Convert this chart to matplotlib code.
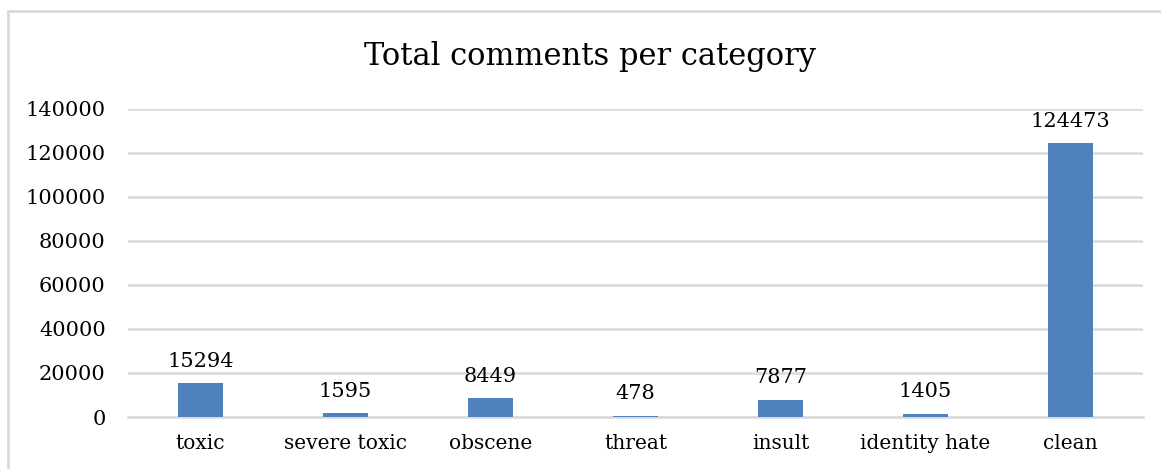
import matplotlib.pyplot as plt
from matplotlib.patches import Rectangle

categories = ['toxic', 'severe toxic', 'obscene', 'threat', 'insult', 'identity hate', 'clean']
counts = [15294, 1595, 8449, 478, 7877, 1405, 124473]
yticks = [0, 20000, 40000, 60000, 80000, 100000, 120000, 140000]

plt.rcParams['font.family'] = ['DejaVu Serif']

fig = plt.figure(figsize=(11.61, 4.69), dpi=100)
ax = fig.add_axes([128 / 1161, 52 / 469, (1143 - 128) / 1161, (417 - 109) / 469])

# light border around the chart (only top and left visible in the reference)
fig.patches.append(Rectangle((8 / 1161, -0.1), 1.2, 0.9765 + 0.1, transform=fig.transFigure,
                             fill=False, edgecolor='#d9d9d9', linewidth=2))

x = range(len(categories))
bars = ax.bar(x, counts, width=0.315, color='#4f81bd', zorder=3)
ax.bar_label(bars, labels=[str(c) for c in counts], padding=9, fontsize=15)

ax.set_xlim(-0.5, len(categories) - 0.5)
ax.set_ylim(0, 140000)
ax.set_yticks(yticks)
ax.set_yticklabels([str(t) for t in yticks])
ax.set_xticks(list(x))
ax.set_xticklabels(categories)
ax.tick_params(axis='y', length=0, pad=16, labelsize=15)
ax.tick_params(axis='x', length=0, pad=12, labelsize=14.5)

ax.grid(axis='y', color='#d9d9d9', linewidth=1.8, zorder=0)
ax.axhline(0, color='#d9d9d9', linewidth=1.8, zorder=2, clip_on=False)
for s in ax.spines.values():
    s.set_visible(False)

fig.text(590 / 1161, 1 - 57 / 469, 'Total comments per category', ha='center', va='center', fontsize=22)

fig.savefig('out.png', dpi=100)
